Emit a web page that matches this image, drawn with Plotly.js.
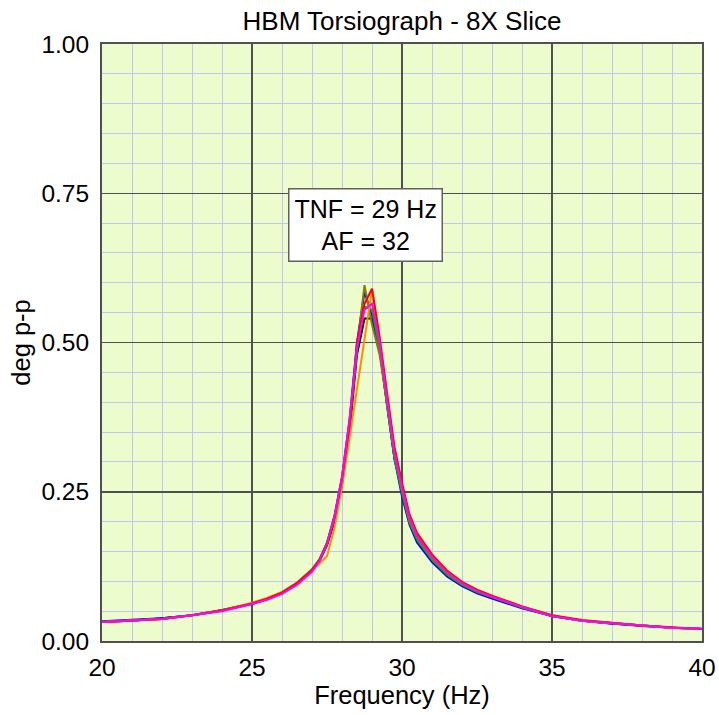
<!DOCTYPE html>
<html>
<head>
<meta charset="utf-8">
<script src="https://cdn.plot.ly/plotly-3.0.1.min.js"></script>
<style>html,body{margin:0;padding:0;background:#fff;}#chart{width:719px;height:715px;}</style>
</head>
<body>
<div id="chart"></div>
<script>
// Frequency (Hz)
const freq = [20,21,22,23,24,25,25.5,26,26.5,27,27.25,27.5,27.75,28,28.25,28.5,28.75,29,29.25,29.5,29.75,30,30.25,30.5,31,31.5,32,32.5,33,34,35,36,37,38,39,40];

// deg p-p, one array per measurement run
const runBlack   = [0.032,0.034,0.038,0.043,0.052,0.063,0.071,0.080,0.096,0.118,0.134,0.160,0.200,0.262,0.350,0.480,0.540,0.540,0.490,0.400,0.305,0.252,0.200,0.172,0.138,0.113,0.095,0.083,0.073,0.056,0.042,0.034,0.029,0.025,0.022,0.020];
const runBlue    = [0.033,0.035,0.038,0.043,0.051,0.062,0.070,0.080,0.096,0.118,0.135,0.164,0.210,0.275,0.370,0.500,0.585,0.545,0.490,0.395,0.305,0.242,0.195,0.165,0.132,0.108,0.092,0.080,0.071,0.055,0.042,0.034,0.029,0.026,0.022,0.020];
const runGreen   = [0.032,0.034,0.037,0.043,0.051,0.063,0.071,0.082,0.098,0.120,0.137,0.165,0.208,0.273,0.365,0.490,0.560,0.555,0.490,0.395,0.305,0.248,0.198,0.170,0.136,0.111,0.094,0.082,0.073,0.056,0.042,0.034,0.030,0.026,0.022,0.020];
const runOlive   = [0.032,0.034,0.037,0.043,0.051,0.063,0.071,0.081,0.097,0.119,0.136,0.163,0.205,0.270,0.360,0.490,0.596,0.530,0.480,0.400,0.315,0.254,0.202,0.174,0.139,0.114,0.096,0.084,0.074,0.057,0.042,0.034,0.030,0.026,0.022,0.020];
const runOrange  = [0.032,0.034,0.037,0.043,0.051,0.064,0.072,0.082,0.097,0.118,0.130,0.142,0.190,0.260,0.340,0.420,0.500,0.588,0.510,0.410,0.320,0.260,0.208,0.178,0.142,0.116,0.098,0.085,0.075,0.058,0.043,0.034,0.030,0.026,0.022,0.020];
const runRed     = [0.032,0.034,0.037,0.043,0.051,0.063,0.071,0.081,0.097,0.119,0.136,0.163,0.205,0.270,0.360,0.500,0.565,0.590,0.510,0.415,0.325,0.265,0.212,0.181,0.145,0.118,0.099,0.086,0.076,0.058,0.043,0.035,0.030,0.026,0.023,0.020];
const runMagenta = [0.032,0.034,0.037,0.043,0.050,0.062,0.069,0.079,0.094,0.116,0.134,0.162,0.208,0.275,0.370,0.490,0.555,0.565,0.500,0.405,0.315,0.257,0.206,0.176,0.141,0.115,0.097,0.084,0.074,0.057,0.042,0.034,0.030,0.026,0.022,0.021];

const runs = [
  {y: runBlack,   color: '#000000'},
  {y: runBlue,    color: '#0000ff'},
  {y: runGreen,   color: '#00b000'},
  {y: runOlive,   color: '#808000'},
  {y: runOrange,  color: '#ff8c00'},
  {y: runRed,     color: '#ff0000'},
  {y: runMagenta, color: '#ff00ff'}
];

const traces = runs.map(r => ({
  x: freq, y: r.y, type: 'scatter', mode: 'lines',
  line: {color: r.color, width: 2}, hoverinfo: 'skip', showlegend: false
}));

const FONT = 'Liberation Sans, Arial, sans-serif';
const minorColor = '#c4c4f4';
const majorColor = '#505050';

const layout = {
  width: 719, height: 715,
  margin: {l: 102, r: 17, t: 44, b: 74},
  paper_bgcolor: '#ffffff',
  plot_bgcolor: '#ecfccc',
  font: {family: FONT, size: 24.5, color: '#000'},
  showlegend: false,
  title: {
    text: 'HBM Torsiograph - 8X Slice',
    font: {family: FONT, size: 26, color: '#000'},
    x: 0.5, xref: 'paper', xanchor: 'center',
    y: 0.971, yref: 'container', yanchor: 'middle'
  },
  xaxis: {
    range: [20, 40], dtick: 5, tick0: 20,
    showgrid: true, gridcolor: majorColor, gridwidth: 1.5,
    minor: {dtick: 1, showgrid: true, gridcolor: minorColor, gridwidth: 1},
    showline: true, mirror: true, linecolor: majorColor, linewidth: 2,
    zeroline: false, ticks: '', ticklabelstandoff: 4,
    tickfont: {family: FONT, size: 24.5, color: '#000'},
    title: {text: 'Frequency (Hz)', font: {family: FONT, size: 25.5, color: '#000'}, standoff: 0}
  },
  yaxis: {
    range: [0, 1], dtick: 0.25, tick0: 0, tickformat: '.2f',
    showgrid: true, gridcolor: majorColor, gridwidth: 1.5,
    minor: {dtick: 0.05, showgrid: true, gridcolor: minorColor, gridwidth: 1},
    showline: true, mirror: true, linecolor: majorColor, linewidth: 2,
    zeroline: false, ticks: '', ticklabelstandoff: 6,
    tickfont: {family: FONT, size: 24.5, color: '#000'},
    title: {text: 'deg p-p', font: {family: FONT, size: 25.5, color: '#000'}, standoff: 3}
  },
  annotations: [{
    x: 28.78, y: 0.696, xref: 'x', yref: 'y',
    text: 'TNF = 29 Hz<br>AF = 32',
    showarrow: false, align: 'center',
    font: {family: FONT, size: 25, color: '#000'},
    bgcolor: '#ffffff', bordercolor: '#606060', borderwidth: 1.5, borderpad: 5
  }]
};

Plotly.newPlot('chart', traces, layout, {displayModeBar: false, staticPlot: true});
</script>
</body>
</html>
